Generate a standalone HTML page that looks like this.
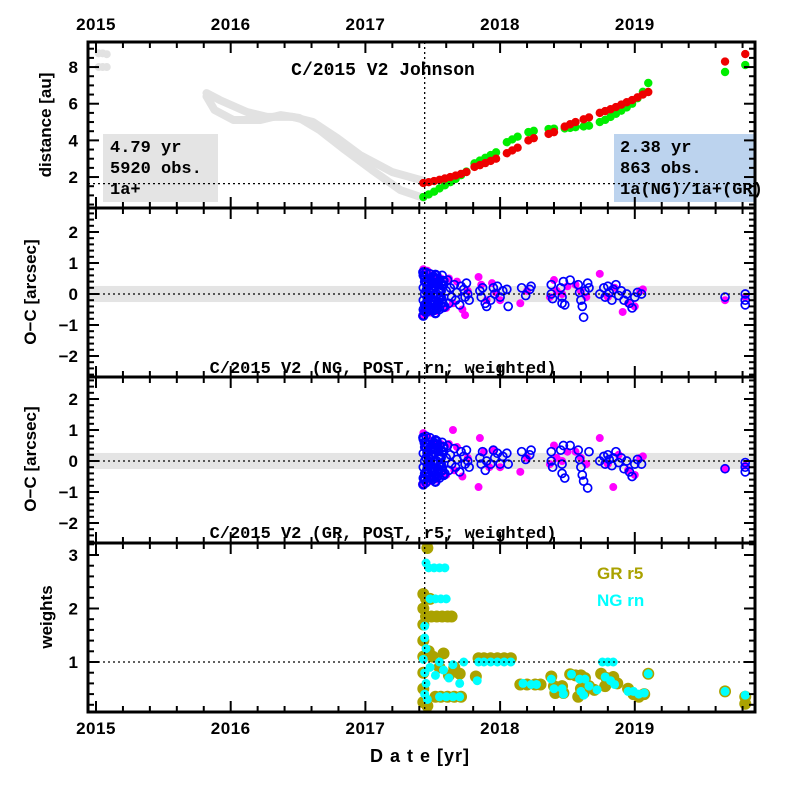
<!DOCTYPE html>
<html><head><meta charset="utf-8">
<style>
html,body{margin:0;padding:0;background:#fff;}
svg{display:block;}
text{font-family:"Liberation Sans",sans-serif;font-weight:bold;fill:#000;}
.mono{font-family:"Liberation Mono",monospace;}
</style></head>
<body>
<svg id="chart" xmlns="http://www.w3.org/2000/svg" width="797" height="797" viewBox="0 0 797 797"></svg>
<script>
// ---------- data ----------
const yearTicks = [2015, 2016, 2017, 2018, 2019];
const distTicks = [2, 4, 6, 8];
const ocTicks = [2, 1, 0, -1, -2];
const wTicks = [1, 2, 3];
const perihelionYear = 2017.44;
const refDistance = 1.64;

const greyEarlyYears = [2015.02, 2015.05, 2015.08, 2015.02, 2015.05, 2015.08];
const greyEarlyDist = [8.75, 8.75, 8.7, 8.0, 8.0, 8.0];
const greyAYears = [2015.82, 2015.92, 2016.12, 2016.27, 2016.46, 2016.61, 2016.79, 2016.96, 2017.20, 2017.43];
const greyADist = [6.58, 6.2, 5.55, 5.28, 5.28, 5.0, 4.13, 3.2, 2.27, 1.8];
const greyBYears = [2015.82, 2015.88, 2016.02, 2016.22, 2016.37, 2016.51, 2016.66, 2016.85, 2017.05, 2017.26, 2017.43];
const greyBDist = [6.4, 5.66, 5.11, 5.11, 5.38, 5.22, 4.56, 3.47, 2.38, 1.29, 0.86];

const obsYears = [2017.43,2017.47,2017.51,2017.55,2017.59,2017.63,2017.67,2017.71,2017.75,2017.81,2017.85,2017.89,2017.93,2017.97,2018.05,2018.09,2018.13,2018.21,2018.25,2018.36,2018.40,2018.48,2018.52,2018.56,2018.62,2018.66,2018.74,2018.78,2018.82,2018.86,2018.90,2018.94,2018.98,2019.02,2019.06,2019.10,2019.67,2019.82];
const sunDist = [1.67,1.72,1.78,1.85,1.92,2.0,2.08,2.17,2.27,2.55,2.65,2.76,2.88,3.0,3.3,3.45,3.6,4.0,4.12,4.35,4.45,4.75,4.88,5.0,5.15,5.25,5.5,5.6,5.7,5.82,5.95,6.08,6.2,6.35,6.5,6.64,8.3,8.71];
const earthDist = [0.91,1.05,1.2,1.38,1.55,1.72,1.9,2.1,2.3,2.75,2.9,3.05,3.2,3.35,3.9,4.05,4.2,4.45,4.52,4.62,4.64,4.65,4.68,4.72,4.76,4.8,5.0,5.12,5.28,5.45,5.62,5.8,6.0,6.3,6.65,7.13,7.73,8.11];

// dense early-residual cluster (shared epochs right after perihelion)
const blobYears = [2017.43,2017.44,2017.45,2017.46,2017.47,2017.48,2017.49,2017.50,2017.51,2017.52,2017.53,2017.54,2017.55,2017.56,2017.57,2017.58];
const blobVals = [0.7,0.55,0.4,0.25,0.1,-0.05,-0.2,-0.35,-0.5,-0.62,0.48,0.3,0.15,-0.1,-0.28,-0.42];

const ngBlue = [[2017.43,0.6],[2017.43,0.2],[2017.43,-0.2],[2017.43,-0.5],[2017.44,0.4],[2017.44,0],[2017.44,-0.35],[2017.45,0.7],[2017.45,0.1],[2017.45,-0.6],[2017.46,0.5],[2017.46,-0.15],[2017.47,0.3],[2017.47,-0.45],[2017.48,0.65],[2017.48,0.05],[2017.49,-0.3],[2017.49,0.4],[2017.50,-0.55],[2017.50,0.2],[2017.51,0.55],[2017.51,-0.1],[2017.52,0.35],[2017.52,-0.4],[2017.53,0.6],[2017.53,0.0],[2017.54,-0.25],[2017.55,0.45],[2017.55,-0.5],[2017.56,0.15],[2017.57,0.6],[2017.57,-0.2],[2017.58,0.3],[2017.59,-0.4],[2017.60,0.1],[2017.61,0.45],[2017.62,-0.3],[2017.63,0.2],[2017.64,-0.1],[2017.66,0.3],[2017.67,-0.2],[2017.68,0.05],[2017.70,-0.35],[2017.71,0.25],[2017.73,0.15],[2017.74,-0.1],[2017.75,0.35],[2017.76,0.0],[2017.77,-0.2],[2017.85,0.1],[2017.86,-0.1],[2017.87,0.2],[2017.89,-0.3],[2017.90,-0.4],[2017.93,-0.2],[2017.95,0.2],[2017.96,0.0],[2017.98,0.25],[2018.00,-0.1],[2018.02,0.1],[2018.05,0.15],[2018.06,-0.4],[2018.16,0.2],[2018.19,-0.05],[2018.22,0.15],[2018.23,0.25],[2018.38,0.3],[2018.38,0.0],[2018.39,-0.15],[2018.45,0.2],[2018.46,-0.1],[2018.46,-0.3],[2018.47,0.4],[2018.48,-0.35],[2018.52,0.45],[2018.58,0.3],[2018.59,0.05],[2018.60,-0.2],[2018.61,-0.4],[2018.62,-0.75],[2018.63,0.1],[2018.65,0.35],[2018.66,0.2],[2018.74,0.0],[2018.77,0.2],[2018.78,-0.1],[2018.80,0.25],[2018.81,0.05],[2018.83,-0.2],[2018.84,0.15],[2018.86,0.3],[2018.88,-0.05],[2018.90,0.1],[2018.92,-0.2],[2018.94,0.0],[2018.96,-0.3],[2018.98,-0.45],[2019.00,-0.1],[2019.02,0.05],[2019.05,0.0],[2019.67,-0.1],[2019.82,0.0],[2019.82,-0.2],[2019.82,-0.35]];
const ngMagenta = [[2017.42,-0.7],[2017.43,0.8],[2017.44,-0.65],[2017.46,0.75],[2017.48,-0.6],[2017.50,0.6],[2017.53,-0.55],[2017.56,0.5],[2017.60,-0.45],[2017.62,0.5],[2017.65,-0.3],[2017.68,0.4],[2017.72,-0.5],[2017.74,-0.68],[2017.76,0.1],[2017.84,0.55],[2017.86,0.3],[2017.90,-0.2],[2017.94,0.35],[2017.97,0.05],[2018.00,-0.2],[2018.15,-0.3],[2018.20,0.1],[2018.37,-0.1],[2018.40,0.45],[2018.42,0.1],[2018.46,0.0],[2018.50,0.25],[2018.56,0.3],[2018.60,0.1],[2018.64,-0.1],[2018.74,0.65],[2018.80,-0.1],[2018.85,0.2],[2018.91,-0.58],[2018.95,-0.3],[2019.00,-0.4],[2019.04,0.1],[2019.06,0.15],[2019.67,-0.2],[2019.82,-0.1]];

const grBlue = [[2017.43,0.7],[2017.43,0.25],[2017.43,-0.2],[2017.43,-0.55],[2017.44,0.45],[2017.44,0],[2017.44,-0.4],[2017.45,0.8],[2017.45,0.1],[2017.45,-0.7],[2017.46,0.55],[2017.46,-0.15],[2017.47,0.3],[2017.47,-0.5],[2017.48,0.75],[2017.48,0.05],[2017.49,-0.3],[2017.49,0.45],[2017.50,-0.6],[2017.50,0.2],[2017.51,0.6],[2017.51,-0.1],[2017.52,0.35],[2017.52,-0.45],[2017.53,0.65],[2017.53,0.0],[2017.54,-0.25],[2017.55,0.5],[2017.55,-0.55],[2017.56,0.15],[2017.57,0.6],[2017.57,-0.2],[2017.58,0.3],[2017.59,-0.4],[2017.60,0.1],[2017.61,0.5],[2017.62,-0.3],[2017.63,0.2],[2017.64,-0.1],[2017.66,0.4],[2017.67,-0.2],[2017.68,0.05],[2017.70,-0.35],[2017.71,0.3],[2017.73,0.15],[2017.74,-0.1],[2017.75,0.35],[2017.76,0.0],[2017.77,-0.2],[2017.85,0.1],[2017.86,-0.1],[2017.87,0.3],[2017.89,-0.3],[2017.90,0.0],[2017.93,-0.1],[2017.95,0.35],[2017.96,0.1],[2017.98,0.25],[2018.00,-0.1],[2018.02,0.15],[2018.05,0.25],[2018.06,-0.1],[2018.16,0.3],[2018.19,0.05],[2018.22,0.2],[2018.23,0.35],[2018.38,0.3],[2018.38,0.0],[2018.39,-0.2],[2018.45,0.35],[2018.46,-0.1],[2018.46,-0.4],[2018.47,0.5],[2018.48,-0.55],[2018.52,0.5],[2018.58,0.35],[2018.59,0.05],[2018.60,-0.2],[2018.61,-0.45],[2018.62,-0.65],[2018.65,-0.87],[2018.66,0.3],[2018.74,0.0],[2018.77,0.15],[2018.78,-0.1],[2018.80,0.2],[2018.81,0.05],[2018.83,-0.15],[2018.84,0.1],[2018.86,0.3],[2018.88,-0.05],[2018.90,0.1],[2018.92,-0.25],[2018.94,0.0],[2018.96,-0.35],[2018.98,-0.5],[2019.00,-0.1],[2019.02,0.05],[2019.05,-0.1],[2019.67,-0.25],[2019.82,-0.05],[2019.82,-0.2],[2019.82,-0.35]];
const grMagenta = [[2017.42,-0.75],[2017.43,0.9],[2017.44,-0.7],[2017.46,0.8],[2017.48,-0.65],[2017.50,0.65],[2017.53,-0.6],[2017.56,0.55],[2017.60,-0.45],[2017.62,0.55],[2017.65,1.0],[2017.66,-0.3],[2017.68,0.45],[2017.72,-0.5],[2017.76,0.1],[2017.84,-0.84],[2017.85,0.74],[2017.88,0.3],[2017.92,-0.2],[2017.95,0.35],[2018.00,-0.2],[2018.15,-0.35],[2018.20,0.1],[2018.37,-0.1],[2018.40,0.5],[2018.42,0.1],[2018.46,0.0],[2018.50,0.3],[2018.56,0.3],[2018.60,0.1],[2018.64,-0.1],[2018.74,0.74],[2018.80,-0.1],[2018.84,-0.84],[2018.88,0.2],[2018.95,-0.3],[2019.00,-0.45],[2019.04,0.1],[2019.06,0.15],[2019.67,-0.25],[2019.82,-0.15]];

const grWeights = [[2017.46,3.13],[2017.43,2.27],[2017.43,2.0],[2017.43,1.7],[2017.43,1.4],[2017.43,1.1],[2017.43,0.8],[2017.43,0.5],[2017.43,0.25],[2017.46,0.18],[2017.45,2.18],[2017.48,2.18],[2017.45,1.85],[2017.49,1.85],[2017.53,1.85],[2017.57,1.85],[2017.61,1.85],[2017.64,1.85],[2017.47,1.2],[2017.50,1.1],[2017.55,0.9],[2017.58,1.16],[2017.62,0.75],[2017.66,0.9],[2017.70,0.78],[2017.52,0.35],[2017.56,0.35],[2017.61,0.35],[2017.66,0.35],[2017.71,0.35],[2017.84,1.07],[2017.88,1.07],[2017.93,1.07],[2017.98,1.07],[2018.03,1.07],[2018.08,1.07],[2017.82,0.73],[2018.15,0.58],[2018.20,0.58],[2018.26,0.58],[2018.30,0.58],[2018.38,0.73],[2018.40,0.55],[2018.41,0.42],[2018.46,0.55],[2018.47,0.42],[2018.52,0.77],[2018.56,0.75],[2018.60,0.75],[2018.63,0.7],[2018.60,0.5],[2018.62,0.42],[2018.58,0.35],[2018.66,0.55],[2018.70,0.48],[2018.75,0.78],[2018.79,0.7],[2018.84,0.72],[2018.87,0.6],[2018.78,0.55],[2018.95,0.5],[2018.99,0.4],[2019.03,0.35],[2019.07,0.4],[2019.10,0.78],[2019.67,0.45],[2019.82,0.35],[2019.82,0.22]];
const ngWeights = [[2017.45,2.85],[2017.47,2.76],[2017.51,2.76],[2017.55,2.76],[2017.59,2.76],[2017.48,2.18],[2017.52,2.18],[2017.56,2.18],[2017.60,2.18],[2017.44,1.67],[2017.44,1.45],[2017.45,1.25],[2017.43,1.05],[2017.44,0.8],[2017.45,0.6],[2017.44,0.4],[2017.46,0.3],[2017.48,0.9],[2017.52,0.75],[2017.55,1.0],[2017.58,0.85],[2017.62,0.7],[2017.65,0.95],[2017.70,0.6],[2017.73,1.0],[2017.55,0.35],[2017.60,0.35],[2017.65,0.35],[2017.70,0.35],[2017.84,1.0],[2017.88,1.0],[2017.93,1.0],[2017.98,1.0],[2018.03,1.0],[2018.08,1.0],[2017.83,0.65],[2018.17,0.6],[2018.23,0.58],[2018.27,0.58],[2018.38,0.68],[2018.40,0.5],[2018.46,0.5],[2018.47,0.4],[2018.53,0.77],[2018.59,0.68],[2018.63,0.68],[2018.60,0.45],[2018.62,0.38],[2018.66,0.55],[2018.72,0.48],[2018.76,1.0],[2018.80,1.0],[2018.84,1.0],[2018.78,0.72],[2018.82,0.65],[2018.85,0.58],[2018.95,0.45],[2018.99,0.45],[2019.03,0.4],[2019.07,0.42],[2019.10,0.78],[2019.67,0.45],[2019.82,0.38]];

// ---------- axes ----------
const L = 88, R = 755;
const panels = [{top:42,bot:208},{top:208,bot:377},{top:377,bot:543},{top:543,bot:712}];
const X = y => 96 + (y - 2015) * 134.7;
const Y1 = d => 213.7 - d * 18.33;
const Y2 = v => 294 - v * 31;
const Y3 = v => 461 - v * 31;
const Y4 = w => 662 - (w - 1) * 53.5;

const svg = document.getElementById('chart');
const NS = 'http://www.w3.org/2000/svg';
function mk(tag, attrs, parent) {
  const e = document.createElementNS(NS, tag);
  for (const k in attrs) e.setAttribute(k, attrs[k]);
  (parent || svg).appendChild(e);
  return e;
}
function txt(s, x, y, attrs, parent) {
  const t = mk('text', Object.assign({x:x, y:y}, attrs), parent);
  t.textContent = s;
  return t;
}

const defs = mk('defs', {});
panels.forEach((p, i) => {
  const cp = mk('clipPath', {id:'clip' + i}, defs);
  mk('rect', {x:L, y:p.top, width:R - L, height:p.bot - p.top}, cp);
});

// ---------- panel 1 ----------
const g1 = mk('g', {'clip-path':'url(#clip0)'});


const box1 = mk('rect', {x:103, y:134, width:115, height:68, fill:'#e4e4e4'}, g1);


const box2 = mk('rect', {x:614, y:134, width:141, height:68, fill:'#bcd3ee'}, svg);



function greyLine(ys, ds, name) {
  let d = '';
  ys.forEach((y, i) => { d += (i ? 'L' : 'M') + X(y).toFixed(1) + ',' + Y1(ds[i]).toFixed(1); });
  const p = mk('path', {d:d, fill:'none', stroke:'#e2e2e2', 'stroke-width':8, 'stroke-linecap':'round', 'stroke-linejoin':'round'}, g1);
  
  
}
greyLine(greyAYears, greyADist, 'pre-perihelion-track-a');
greyLine(greyBYears, greyBDist, 'pre-perihelion-track-b');
greyEarlyYears.forEach((y, i) => {
  const c = mk('circle', {cx:X(y), cy:Y1(greyEarlyDist[i]), r:4, fill:'#e2e2e2'}, g1);
  
  
});
obsYears.forEach((y, i) => {
  const c = mk('circle', {cx:X(y), cy:Y1(earthDist[i]), r:4.2, fill:'#00ee00'}, g1);
  
  
});
obsYears.forEach((y, i) => {
  const c = mk('circle', {cx:X(y), cy:Y1(sunDist[i]), r:4.2, fill:'#ee0000'}, g1);
  
  
});
const hl1 = mk('line', {x1:L, x2:R, y1:Y1(refDistance), y2:Y1(refDistance), stroke:'#000', 'stroke-width':1.3, 'stroke-dasharray':'2,3'});



// ---------- O-C panels ----------
function ocPanel(idx, Yf, blue, mag, name, spread) {
  const g = mk('g', {'clip-path':'url(#clip' + idx + ')'});
  
  
  const band = mk('rect', {x:L, y:Yf(0.26), width:R - L, height:Yf(-0.26) - Yf(0.26), fill:'#e4e4e4'}, g);
  
  
  mag.forEach(o => {
    const c = mk('circle', {cx:X(o[0]), cy:Yf(o[1]), r:4, fill:'#ff00ff'}, g);
    
    
  });
  // dense cluster near perihelion
  blobYears.forEach((y, i) => {
    [1, -1].forEach(sg => {
      const c = mk('circle', {cx:X(y), cy:Yf(blobVals[i] * sg * spread), r:4, fill:'none', stroke:'#0000ff', 'stroke-width':2.4}, g);
      
      
    });
  });
  blue.forEach(o => {
    const c = mk('circle', {cx:X(o[0]), cy:Yf(o[1]), r:4, fill:'none', stroke:'#0000ff', 'stroke-width':1.7}, g);
    
    
  });
  const hl = mk('line', {x1:L, x2:R, y1:Yf(0), y2:Yf(0), stroke:'#000', 'stroke-width':1.3, 'stroke-dasharray':'2,3'}, g);
  
  
}
ocPanel(1, Y2, ngBlue, ngMagenta, 'ng-residual-panel', 1.0);
ocPanel(2, Y3, grBlue, grMagenta, 'gr-residual-panel', 1.08);

// ---------- weights panel ----------
const g4 = mk('g', {'clip-path':'url(#clip3)'});


grWeights.forEach(o => {
  const c = mk('circle', {cx:X(o[0]), cy:Y4(o[1]), r:6, fill:'#aaa200'}, g4);
  
  
});
ngWeights.forEach(o => {
  const c = mk('circle', {cx:X(o[0]), cy:Y4(o[1]), r:4.5, fill:'#00ffff'}, g4);
  
  
});
const hl4 = mk('line', {x1:L, x2:R, y1:Y4(1), y2:Y4(1), stroke:'#000', 'stroke-width':1.3, 'stroke-dasharray':'2,3'});



const vl = mk('line', {x1:X(perihelionYear), x2:X(perihelionYear), y1:42, y2:712, stroke:'#000', 'stroke-width':1.3, 'stroke-dasharray':'2,3'});



// ---------- ticks & frames ----------
const tk = mk('g', {stroke:'#000', 'stroke-width':2});


panels.forEach(p => {
  for (let y = 2015; y <= 2019.9; y = Math.round((y + 0.2) * 10) / 10) {
    const major = Math.abs(y - Math.round(y)) < 1e-6;
    const len = major ? 11 : 6;
    const x = X(y);
    if (x < L || x > R) continue;
    mk('line', {x1:x, x2:x, y1:p.top, y2:p.top + len}, tk);
    mk('line', {x1:x, x2:x, y1:p.bot, y2:p.bot - len}, tk);
  }
});
function yTicks(Yf, lo, hi, minor, majorEvery, p) {
  const n = Math.round((hi - lo) / minor);
  for (let i = 0; i <= n; i++) {
    const v = lo + i * minor;
    const y = Yf(v);
    if (y < p.top + 1 || y > p.bot - 1) continue;
    const major = Math.abs(v / majorEvery - Math.round(v / majorEvery)) < 1e-6;
    const len = major ? 11 : 6;
    mk('line', {x1:L, x2:L + len, y1:y, y2:y}, tk);
    mk('line', {x1:R, x2:R - len, y1:y, y2:y}, tk);
  }
}
yTicks(Y1, 0.5, 9.5, 0.5, 2, panels[0]);
yTicks(Y2, -3, 3, 0.2, 1, panels[1]);
yTicks(Y3, -3, 3, 0.2, 1, panels[2]);
yTicks(Y4, 0, 3.4, 0.2, 1, panels[3]);
panels.forEach((p, i) => {
  const r = mk('rect', {x:L, y:p.top, width:R - L, height:p.bot - p.top, fill:'none', stroke:'#000', 'stroke-width':3});
  
  
});

// ---------- labels ----------
yearTicks.forEach(y => {
  const t1 = txt(String(y), X(y), 30, {'font-size':17, 'text-anchor':'middle', 'letter-spacing':'0.5'});
  
  
  const t2 = txt(String(y), X(y), 734, {'font-size':17, 'text-anchor':'middle', 'letter-spacing':'0.5'});
  
  
});
distTicks.forEach(d => {
  const t = txt(String(d), 78, Y1(d) + 6, {'font-size':17, 'text-anchor':'end'});
  
  
});
ocTicks.forEach(v => {
  const s = v < 0 ? '\u2212' + Math.abs(v) : String(v);
  const a = txt(s, 78, Y2(v) + 6, {'font-size':17, 'text-anchor':'end'});
  
  
  const b = txt(s, 78, Y3(v) + 6, {'font-size':17, 'text-anchor':'end'});
  
  
});
wTicks.forEach(w => {
  const t = txt(String(w), 78, Y4(w) + 6, {'font-size':17, 'text-anchor':'end'});
  
  
});

function T(s, x, y, size, cls, extra, name) {
  const t = txt(s, x, y, Object.assign({'font-size':size}, cls ? {'class':cls} : {}, extra || {}));
  
  
  return t;
}
T('C/2015 V2 Johnson', 383, 75, 18, 'mono', {'text-anchor':'middle'}, 'chart-title');
T('4.79 yr', 110, 152, 17, 'mono', {}, 'pre-span-text');
T('5920 obs.', 110, 173, 17, 'mono', {}, 'pre-obs-text');
T('1a+', 110, 194, 17, 'mono', {}, 'pre-class-text');
T('2.38 yr', 620, 152, 17, 'mono', {}, 'post-span-text');
T('863 obs.', 620, 173, 17, 'mono', {}, 'post-obs-text');
T('1a(NG)/1a+(GR)', 620, 194, 17, 'mono', {}, 'post-class-text');
T('C/2015 V2 (NG, POST, rn; weighted)', 383, 373, 17, 'mono', {'text-anchor':'middle'}, 'ng-panel-caption');
T('C/2015 V2 (GR, POST, r5; weighted)', 383, 538, 17, 'mono', {'text-anchor':'middle'}, 'gr-panel-caption');
T('GR r5', 597, 579, 17, null, {'style':'fill:#aaa200'}, 'legend-gr-r5');
T('NG rn', 597, 606, 17, null, {'style':'fill:#00ffff'}, 'legend-ng-rn');
T('D a t e [yr]', 420, 762, 18, null, {'text-anchor':'middle', 'letter-spacing':'1'}, 'x-axis-title');
T('distance [au]', 0, 0, 17, null, {'text-anchor':'middle', 'transform':'translate(51,125) rotate(-90)'}, 'distance-axis-title');
T('O\u2212C [arcsec]', 0, 0, 17, null, {'text-anchor':'middle', 'transform':'translate(36,292) rotate(-90)'}, 'ng-oc-axis-title');
T('O\u2212C [arcsec]', 0, 0, 17, null, {'text-anchor':'middle', 'transform':'translate(36,459) rotate(-90)'}, 'gr-oc-axis-title');
T('weights', 0, 0, 17, null, {'text-anchor':'middle', 'transform':'translate(52,617) rotate(-90)'}, 'weights-axis-title');
</script>
</body></html>
